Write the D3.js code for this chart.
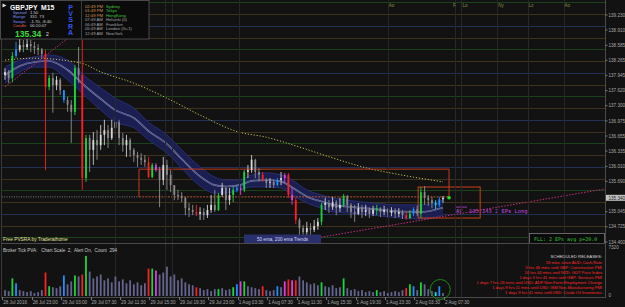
<!DOCTYPE html>
<html><head><meta charset="utf-8">
<script src="https://cdnjs.cloudflare.com/ajax/libs/d3/7.8.5/d3.min.js"></script>
<style>
html,body{margin:0;padding:0;background:#121212;overflow:hidden;}
svg{display:block;font-family:"Liberation Sans",Arial,sans-serif;}
</style></head><body>
<svg id="chart" width="625" height="307"></svg>
<script>
// ---------------- DATA ----------------
const firstOpen = 137.95;
const candleClose = [138.02,137.89,138.36,138.49,138.59,138.55,138.61,138.57,138.53,138.49,
138.40,137.70,137.89,137.74,137.85,137.63,137.42,137.32,137.17,138.10,
137.95,135.76,136.61,136.36,136.57,136.46,136.68,136.78,136.61,136.83,
136.95,136.61,136.46,136.57,136.36,136.25,136.19,136.15,136.10,135.78,
136.04,135.93,135.72,136.04,135.83,135.61,135.40,135.38,135.34,135.12,
135.08,135.04,135.00,135.04,134.97,135.08,135.19,135.08,135.40,135.55,
135.29,135.40,135.51,135.55,135.51,135.89,135.93,136.15,135.89,135.83,
135.72,135.66,135.68,135.61,135.72,135.76,135.83,135.40,135.29,134.87,
134.70,134.61,134.70,134.66,134.74,134.83,135.19,135.23,135.14,135.25,
135.12,135.19,135.38,135.19,135.04,135.00,135.12,135.04,135.08,135.00,
135.08,135.12,135.04,135.08,135.02,135.06,135.00,135.04,134.97,134.91,
135.00,135.10,135.00,135.46,135.34,135.29,135.23,135.19,135.31,135.34];
const candleHigh = [138.10,138.06,138.44,138.66,138.74,138.70,138.74,138.70,138.66,138.61,
138.53,138.49,137.95,138.00,137.93,137.89,137.63,137.49,137.42,138.17,
138.55,138.70,136.68,136.68,136.74,136.78,136.89,137.00,136.89,137.00,
137.06,137.00,136.72,136.68,136.61,136.40,136.32,136.29,136.25,136.21,
136.08,136.08,136.00,136.21,136.15,135.93,135.61,135.51,135.46,135.36,
135.23,135.19,135.19,135.14,135.12,135.19,135.40,135.51,135.44,135.66,
135.57,135.55,135.57,135.61,135.59,135.93,136.04,136.25,136.17,135.97,
135.89,135.76,135.76,135.72,135.76,135.89,135.87,135.87,135.55,135.34,
134.91,134.76,134.83,134.80,134.87,134.91,135.23,135.34,135.29,135.36,
135.29,135.34,135.42,135.40,135.23,135.19,135.23,135.19,135.19,135.14,
135.17,135.19,135.14,135.17,135.12,135.14,135.12,135.12,135.08,135.06,
135.08,135.14,135.17,135.57,135.59,135.40,135.36,135.29,135.36,135.38];
const candleLow = [137.85,137.78,137.80,138.31,138.44,138.44,138.49,138.44,138.40,138.38,
138.31,135.93,137.63,137.15,137.63,137.53,137.36,137.17,136.51,137.10,
137.78,135.51,135.68,135.89,136.04,136.15,136.36,136.46,136.40,136.57,
136.68,136.46,136.32,136.21,136.21,136.10,136.00,136.04,136.00,135.76,
135.76,135.89,135.14,135.61,135.51,135.46,135.29,135.29,135.25,134.97,
134.93,134.97,134.95,134.87,134.87,134.91,135.02,135.04,135.06,135.36,
135.08,135.19,135.25,135.46,135.40,135.46,135.76,135.87,135.76,135.68,
135.68,135.55,135.55,135.55,135.59,135.61,135.66,135.34,135.19,134.78,
134.55,134.51,134.53,134.53,134.61,134.66,134.76,135.08,135.02,135.08,
134.97,135.04,135.14,135.04,134.91,134.83,134.97,134.91,134.95,134.91,
134.95,134.97,134.93,134.97,134.93,134.95,134.91,134.93,134.89,134.87,
134.89,134.95,134.95,134.91,135.19,135.17,135.12,135.10,135.14,135.23];
const tickVolume = [880,730,2630,1900,880,730,580,730,440,580,
880,3500,1460,1310,1170,1460,3070,1750,2190,3070,
2920,3210,5990,3650,2630,2920,3210,2340,2630,2040,
2920,2190,2480,1900,2340,1750,2040,1610,1900,4090,
4090,3800,3210,3500,4380,2920,3210,2340,2630,2040,
1750,1610,1310,1170,880,1020,730,1020,1020,1170,
880,1020,1310,1750,2190,2190,1460,1310,1170,1020,
1460,880,730,880,1460,1310,2190,2480,2340,2340,
2920,2340,2040,1750,1900,1610,2040,1460,1310,1610,
1170,1310,2630,1170,880,1020,730,880,580,730,
580,880,580,730,440,580,730,580,880,1170,
1750,1460,880,2040,1750,1020,730,580,1460,440];
const redBars = [11,21,39,52,70,77,79,109];
const greenBars = [2,12,19,22,40,58,62,65,86,92,101,110,113];
const blueBars = [3,16,63,74,111,118];
const magentaBars = [41,64,76,78];
const cyanBars = [117];

// 50 ema band (bar index t, upper / lower edge)
const emaT   = [0,8,16,24,34,44,52,60,70,78,88,96,106,114,120,128,134,142,150,156,164,172,178,186,200,214,226,238];
const emaTop = [138.12,138.27,138.34,138.38,138.27,137.91,137.68,137.46,137.25,136.95,136.68,136.36,136.00,135.78,135.72,135.72,135.83,135.87,135.83,135.72,135.51,135.40,135.34,135.29,135.23,135.19,135.19,135.29];
const emaBot = [137.78,138.02,138.12,138.12,137.85,137.49,137.21,136.95,136.83,136.57,136.29,135.97,135.59,135.44,135.44,135.51,135.57,135.57,135.55,135.40,135.23,135.12,135.04,135.02,134.97,134.91,134.89,134.97];
// 200 ema
const ema200T = [0,15,41,52,70,88,106,127,142,160,178,197,215,222,238];
const ema200  = [138.27,138.31,138.21,138.02,137.78,137.46,137.10,136.74,136.63,136.42,136.19,135.97,135.83,135.78,135.68];

// trend lines [t1,p1,t2,p2]
const trendA = [0,137.70,41,138.94];
const trendB = [170,134.49,326,135.53];
// level line / boxes
const levelLine = {t1:-3, t2:72.8, p:135.36};
const bigBox = {t1:72.8, t2:241.3, pTop:135.95, pBot:135.36};
const smallBox = {t1:224.5, t2:258.2, pTop:135.57, pBot:134.91};
const entry = {t:241.3, p:135.34};
const avLevel = {t1:245.1, t2:251.1, p:135.143, label:"AV  135.143 2 EPs Long"};

const gridLevels = [139.50,139.25,139.00,138.75,138.50,138.25,138.00,137.75,137.50,137.25,137.00,136.75,136.50,136.25,136.00,135.75,135.50,135.25,135.00,134.75,134.50];
const priceTicks = ["139.230","138.910","138.585","138.265","137.945","137.620","137.300","136.975","136.655","136.335","136.010","135.690","135.045","134.725","134.400"];
const currentPrice = 135.34;
const volMax = 7320;

const timeTickT = [-1.5,14.5,30.5,46.5,62.5,78.5,94.5,110.5,126.5,142.5,158.5,174.5,190.5,206.5,222.5,238.5];
const timeTickLabels = ["28 Jul 2016","28 Jul 23:00","29 Jul 03:00","29 Jul 07:30","29 Jul 11:30","29 Jul 15:30","29 Jul 19:30","29 Jul 23:00","1 Aug 03:30","1 Aug 07:30","1 Aug 11:30","1 Aug 15:30","1 Aug 19:30","1 Aug 23:30","2 Aug 03:30","2 Aug 07:30"];
const separatorT = [60,87,91,127];
const sessionT = [208,244.5,248,267.5,284,303.5];
const sessionLabels = ["Ao","F","Lo","Ny","Lc","Ao"];

const infoLabels = ["Spread","Range","Swaps","Candle"];
const infoValues = ["1.50","331. 73","-1.70, -8.40","00:10:07"];
const clockTimes = ["02:49 PM","01:49 PM","12:49 PM","07:49 AM","06:49 AM","05:49 AM","12:49 AM"];
const clockCities = ["Sydney","Tokyo","HongKong","Helsinki (0)","Frankfurt","London (G+1)","NewYork"];
const releases = ["19 mins since AUD: Cash Rate","3 hrs 46 mins until GBP: Construction PMI","10 hrs 44 mins until NZD: GDT Price Index","1 days 3 hrs 41 mins until GBP: Services PMI","1 days 7 hrs 26 mins until USD: ADP Non-Farm Employment Change","1 days 9 hrs 11 mins until USD: ISM Non-Manufacturing PMI","1 days 9 hrs 41 mins until USD: Crude Oil Inventories"];

// ---------------- DRAW ----------------
const svg = d3.select("#chart");
const xs = d3.scaleLinear().domain([0,238]).range([5,443]);
const ys = d3.scaleLinear().domain([134.40,139.23]).range([242,15]);
const yv = d3.scaleLinear().domain([0,volMax]).range([296,247]);

svg.append("rect").attr("width",625).attr("height",307).attr("fill","#121212");
const defs = svg.append("defs");
defs.append("clipPath").attr("id","cm").append("rect").attr("x",2).attr("y",0).attr("width",603).attr("height",243);
defs.append("clipPath").attr("id","cv").append("rect").attr("x",2).attr("y",244).attr("width",603).attr("height",53);

const gm = svg.append("g").attr("clip-path","url(#cm)");
// grid levels
gm.selectAll("line.grid").data(gridLevels).join("line")
  .attr("x1",2).attr("x2",605)
  .attr("y1",d=>Math.round(ys(d))+0.5).attr("y2",d=>Math.round(ys(d))+0.5)
  .attr("stroke",d=>{const f=Math.round((d%1)*100); return f===0?"#223157":(f===50?"#1a431a":"#3e3219");})
  .attr("stroke-width",1);

// vertical separators (both panels)
const allSep = separatorT.concat(sessionT);
svg.selectAll("line.sep").data(allSep).join("line")
  .attr("x1",d=>Math.round(xs(d))+0.5).attr("x2",d=>Math.round(xs(d))+0.5)
  .attr("y1",0).attr("y2",297).attr("stroke","#272727").attr("stroke-width",1);
svg.selectAll("text.sess").data(sessionT).join("text")
  .attr("x",(d,i)=>xs(d)+(sessionLabels[i]==="F"?-2:1)).attr("y",6.5)
  .attr("font-size",4.6).attr("fill","#8c8c3c").text((d,i)=>sessionLabels[i]);

// 50 ema band
const band = emaT.map((t,i)=>({t, top:emaTop[i], bot:emaBot[i]}));
gm.append("path").datum(band)
  .attr("d",d3.area().x(d=>xs(d.t)).y0(d=>ys(d.bot)).y1(d=>ys(d.top)).curve(d3.curveMonotoneX))
  .attr("fill","#1b1e50");
["top","bot"].forEach(k=>{
  gm.append("path").datum(band)
   .attr("d",d3.line().x(d=>xs(d.t)).y(d=>ys(d[k])).curve(d3.curveMonotoneX))
   .attr("fill","none").attr("stroke","#2c3380").attr("stroke-width",0.8);
});
const midLine = d3.line().x(d=>xs(d.t)).y(d=>ys((d.top+d.bot)/2)).curve(d3.curveMonotoneX);
gm.append("path").datum(band).attr("d",midLine).attr("fill","none").attr("stroke","#8b90b8").attr("stroke-width",1.6);
gm.append("path").datum(band).attr("d",midLine).attr("fill","none").attr("stroke","#1b1e50").attr("stroke-width",0.6);

// 200 ema dotted
gm.append("path").datum(ema200T.map((t,i)=>({t,p:ema200[i]})))
  .attr("d",d3.line().x(d=>xs(d.t)).y(d=>ys(d.p)).curve(d3.curveMonotoneX))
  .attr("fill","none").attr("stroke","#c9bf4e").attr("stroke-width",1).attr("stroke-dasharray","1.2,1.8");

// trend lines
[trendA,trendB].forEach(tl=>{
  gm.append("line").attr("x1",xs(tl[0])).attr("y1",ys(tl[1])).attr("x2",xs(tl[2])).attr("y2",ys(tl[3]))
    .attr("stroke","#c42d80").attr("stroke-width",1).attr("stroke-dasharray","1.5,1.5");
});

// level line and boxes
gm.append("line").attr("x1",xs(levelLine.t1)).attr("x2",xs(levelLine.t2))
  .attr("y1",ys(levelLine.p)).attr("y2",ys(levelLine.p))
  .attr("stroke","#8a8a8a").attr("stroke-width",0.9).attr("stroke-dasharray","1,1.4");
gm.append("line").attr("x1",xs(bigBox.t1)).attr("x2",xs(bigBox.t2)).attr("y1",ys(bigBox.pTop)).attr("y2",ys(bigBox.pTop))
  .attr("stroke","#c23c1c").attr("stroke-width",1);
gm.append("line").attr("x1",xs(bigBox.t1)).attr("x2",xs(bigBox.t1)).attr("y1",ys(bigBox.pTop)).attr("y2",ys(bigBox.pBot))
  .attr("stroke","#c23c1c").attr("stroke-width",1);
gm.append("line").attr("x1",xs(bigBox.t2)).attr("x2",xs(bigBox.t2)).attr("y1",ys(bigBox.pTop)).attr("y2",ys(bigBox.pBot))
  .attr("stroke","#c23c1c").attr("stroke-width",1);
gm.append("line").attr("x1",xs(bigBox.t1)).attr("x2",xs(bigBox.t2)).attr("y1",ys(bigBox.pBot)).attr("y2",ys(bigBox.pBot))
  .attr("stroke","#b8562e").attr("stroke-width",1).attr("stroke-dasharray","2,1.2");
gm.append("rect").attr("x",xs(smallBox.t1)).attr("y",ys(smallBox.pTop))
  .attr("width",xs(smallBox.t2)-xs(smallBox.t1)).attr("height",ys(smallBox.pBot)-ys(smallBox.pTop))
  .attr("fill","none").attr("stroke","#c8401a").attr("stroke-width",1);

// candles
const colorOf = i => redBars.includes(i)?"#ff1f1f":greenBars.includes(i)?"#19d63a":blueBars.includes(i)?"#1e8fff":magentaBars.includes(i)?"#e03be0":cyanBars.includes(i)?"#19e0e0":null;
const candles = candleClose.map((c,i)=>({t:2*i,o:i?candleClose[i-1]:firstOpen,c,h:candleHigh[i],l:candleLow[i],v:tickVolume[i],col:colorOf(i)}));
const cg = gm.append("g");
cg.selectAll("line").data(candles).join("line")
  .attr("x1",d=>xs(d.t)).attr("x2",d=>xs(d.t))
  .attr("y1",d=>ys(Math.max(d.h,d.o,d.c))).attr("y2",d=>ys(Math.min(d.l,d.o,d.c)))
  .attr("stroke",d=>d.col||(d.c>=d.o?"#cfcfcf":"#8e8e8e")).attr("stroke-width",0.9);
cg.selectAll("rect").data(candles).join("rect")
  .attr("x",d=>xs(d.t)-0.9).attr("width",1.8)
  .attr("y",d=>ys(Math.max(d.o,d.c))).attr("height",d=>Math.max(1,Math.abs(ys(d.o)-ys(d.c))))
  .attr("fill",d=>d.col||(d.c>=d.o?"#d6d6d6":"#8a8a8a"));

// entry marker & AV label
gm.append("circle").attr("cx",xs(entry.t)).attr("cy",ys(entry.p)).attr("r",1.8).attr("fill","#22e022");
gm.append("line").attr("x1",xs(avLevel.t1)).attr("x2",xs(avLevel.t2)).attr("y1",ys(avLevel.p)).attr("y2",ys(avLevel.p))
  .attr("stroke","#c040e0").attr("stroke-width",0.8);
gm.append("text").attr("x",xs(avLevel.t1)).attr("y",ys(avLevel.p)+6)
  .attr("font-family","DejaVu Sans Mono, monospace").attr("font-size",5.4).attr("fill","#c44ae6")
  .style("white-space","pre").text(avLevel.label);

// bottom labels of main panel
svg.append("text").attr("x",3).attr("y",241.2).attr("font-size",4.8).attr("fill","#e4e49c").text("Free PVSRA by Traderathome");
svg.append("rect").attr("x",244).attr("y",234.5).attr("width",77).attr("height",8.5).attr("fill","#2a2f6e");
svg.append("text").attr("x",282.5).attr("y",240.8).attr("text-anchor","middle").attr("font-size",4.6).attr("fill","#d8d8f0").text("50 ema, 200 ema Trends");
svg.append("rect").attr("x",529.5).attr("y",233.5).attr("width",75).attr("height",10).attr("fill","#0b0b0b").attr("stroke","#7a7a7a").attr("stroke-width",0.8);
svg.append("text").attr("x",534).attr("y",240.8).attr("font-family","DejaVu Sans Mono, monospace").attr("font-size",5).attr("fill","#35c535").text("FLL: 2 EPs avg p+20.0");

// panel borders
svg.append("line").attr("x1",2).attr("x2",605).attr("y1",243.5).attr("y2",243.5).attr("stroke","#4a4a4a");
svg.append("line").attr("x1",2).attr("x2",605).attr("y1",297.5).attr("y2",297.5).attr("stroke","#4a4a4a");
svg.append("line").attr("x1",605.5).attr("x2",605.5).attr("y1",0).attr("y2",298).attr("stroke","#4a4a4a");
svg.append("line").attr("x1",1.5).attr("x2",1.5).attr("y1",0).attr("y2",298).attr("stroke","#3a3a3a");

// price axis
const tickVals = priceTicks.map(Number);
svg.selectAll("line.pt").data(tickVals).join("line")
  .attr("x1",605).attr("x2",607.5).attr("y1",d=>ys(d)).attr("y2",d=>ys(d)).attr("stroke","#777");
svg.selectAll("text.pt").data(priceTicks).join("text")
  .attr("x",608.5).attr("y",d=>ys(+d)+1.7).attr("font-size",4.6).attr("fill","#a8a8a8").text(d=>d);
svg.append("rect").attr("x",606).attr("y",ys(currentPrice)-3).attr("width",19).attr("height",6).attr("fill","#c2c2c2");
svg.append("text").attr("x",608.5).attr("y",ys(currentPrice)+1.7).attr("font-size",4.6).attr("fill","#1a1a1a").text(currentPrice.toFixed(3));

// volume panel
const gv = svg.append("g").attr("clip-path","url(#cv)");
gv.selectAll("rect").data(candles).join("rect")
  .attr("x",d=>xs(d.t)-0.9).attr("width",1.8)
  .attr("y",d=>yv(d.v)).attr("height",d=>yv(0)-yv(d.v))
  .attr("fill",d=>d.col||"#64648f");
svg.append("circle").attr("cx",xs(236.5)).attr("cy",289.5).attr("r",10).attr("fill","none").attr("stroke","#1c8a1c").attr("stroke-width",1);
svg.append("text").attr("x",3).attr("y",251.5).attr("font-size",4.6).attr("fill","#c8c8c8").style("white-space","pre")
  .text("Broker Tick PVA:   Chart Scale  2,  Alert On,  Count  294");
svg.append("text").attr("x",608.5).attr("y",yv(volMax)+2).attr("font-size",4.6).attr("fill","#a8a8a8").text(String(volMax));
svg.append("text").attr("x",608.5).attr("y",yv(0)+0.5).attr("font-size",4.6).attr("fill","#a8a8a8").text("0");
svg.append("text").attr("x",602).attr("y",257.6).attr("text-anchor","end").attr("font-size",4.3).attr("fill","#d8d8d8").text("SCHEDULED RELEASES:");
svg.selectAll("text.rel").data(releases).join("text")
  .attr("x",602).attr("y",(d,i)=>264.4+i*5).attr("text-anchor","end").attr("font-size",4.1).attr("fill","#ff2a2a").text(d=>d);

// time axis
svg.selectAll("line.tt").data(timeTickT).join("line")
  .attr("x1",d=>Math.round(xs(d))+0.5).attr("x2",d=>Math.round(xs(d))+0.5).attr("y1",297).attr("y2",300).attr("stroke","#777");
svg.selectAll("text.tt").data(timeTickT).join("text")
  .attr("x",d=>xs(d)+1).attr("y",303.8).attr("font-size",4.6).attr("fill","#a8a8a8").text((d,i)=>timeTickLabels[i]);

// header info box
const hb = svg.append("g");
hb.append("rect").attr("x",0.5).attr("y",0.5).attr("width",148.5).attr("height",38.5).attr("fill","#0b0b0b").attr("stroke","#5a5a5a").attr("stroke-width",0.8);
hb.append("line").attr("x1",81.5).attr("x2",81.5).attr("y1",0.5).attr("y2",39).attr("stroke","#3c3c3c");
hb.append("path").attr("d","M2.5,3.5 L6.5,5.5 L2.5,7.5 Z").attr("fill","#e0e0e0");
hb.append("text").attr("x",10).attr("y",9.6).attr("font-size",6.8).attr("font-weight","bold").attr("fill","#ffffff").text("GBPJPY");
hb.append("text").attr("x",41).attr("y",9.6).attr("font-size",6.8).attr("font-weight","bold").attr("fill","#ffffff").text("M15");
hb.selectAll("text.il").data(infoLabels).join("text")
  .attr("x",13).attr("y",(d,i)=>14+i*4.3).attr("font-size",4.2)
  .attr("fill",(d,i)=>i===3?"#e05a4a":"#7f8cf0").text(d=>d);
hb.selectAll("text.iv").data(infoValues).join("text")
  .attr("x",30).attr("y",(d,i)=>14+i*4.3).attr("font-size",4.2).attr("fill","#d0d0d0").text(d=>d);
hb.append("text").attr("x",15).attr("y",36.6).attr("font-size",8.6).attr("font-weight","bold").attr("fill","#3ade3a").text(currentPrice.toFixed(2));
hb.append("text").attr("x",46).attr("y",36.4).attr("font-size",5).attr("fill","#e0e0e0").text("2");
hb.selectAll("text.pv").data(["P","V","S","R","A"]).join("text")
  .attr("x",70.5).attr("y",(d,i)=>9.6+i*6.4).attr("text-anchor","middle").attr("font-size",7).attr("font-weight","bold")
  .attr("fill","#3355ee").text(d=>d);
hb.selectAll("text.ct").data(clockTimes).join("text")
  .attr("x",85).attr("y",(d,i)=>7.6+i*4.56).attr("font-size",4.2)
  .attr("fill",(d,i)=>i<3?"#d89a50":"#a8a8a8").text(d=>d);
hb.selectAll("text.cc").data(clockCities).join("text")
  .attr("x",106).attr("y",(d,i)=>7.6+i*4.56).attr("font-size",4.2)
  .attr("fill",(d,i)=>i<3?"#3ac83a":"#a8a8a8").text(d=>d);
</script></body></html>
